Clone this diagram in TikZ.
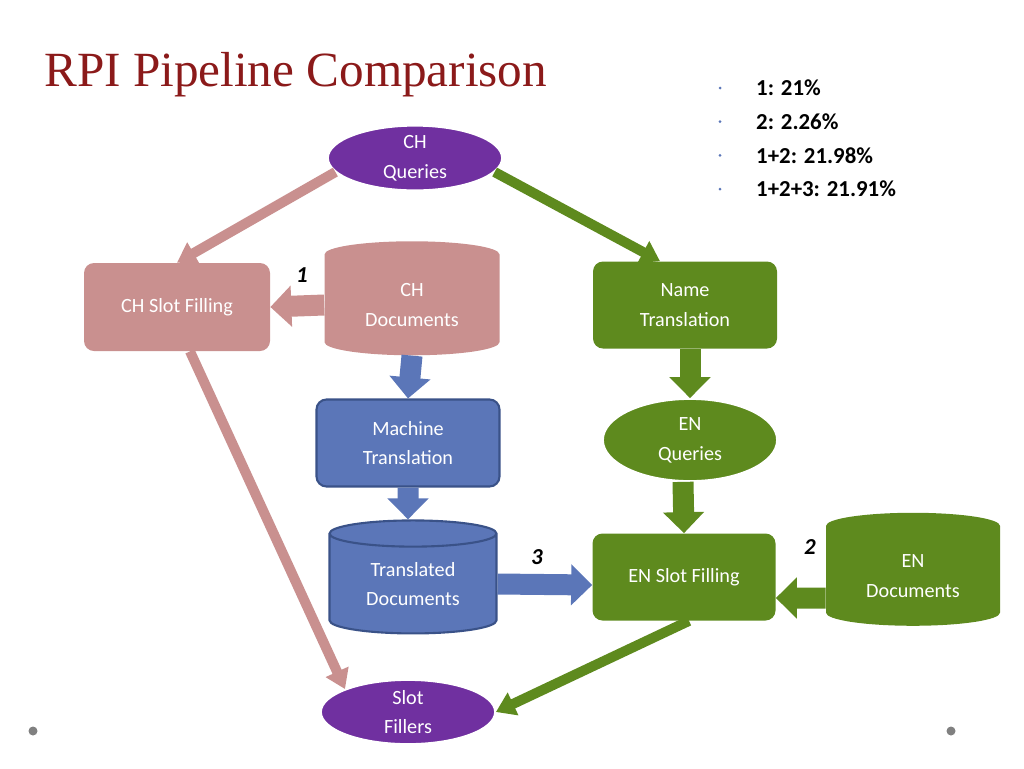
\documentclass[tikz,border=0pt]{standalone}
\usepackage{fontspec}
\setmainfont{Carlito}
\newfontfamily\titlefont{Liberation Serif}
\usetikzlibrary{shapes.geometric,arrows.meta}
\definecolor{pk}{HTML}{C9908F}
\definecolor{gr}{HTML}{5E8A1E}
\definecolor{bl}{HTML}{5B76B8}
\definecolor{bld}{HTML}{3A5288}
\definecolor{pu}{HTML}{7030A0}
\definecolor{tr}{HTML}{8B1A1A}
\def\u{0.02cm}
\begin{document}
\begin{tikzpicture}[x=0.02cm,y=-0.02cm,
  txt/.style={text=white,font=\fontsize{11.5}{17}\selectfont,align=center},
  box/.style={txt,rounded corners=0.2cm,inner sep=0pt},
  ell/.style={txt,ellipse,inner sep=0pt,fill=pu,draw=white,line width=1pt},
  cyl/.style={txt,cylinder,shape border rotate=90,aspect=0.28,inner sep=0pt},
  thin/.style={line width=0.2cm,-{Triangle[width=0.48cm,length=0.38cm]}},
  blk/.style={line width=0.42cm,-{Triangle[width=0.8cm,length=0.42cm]}},
  num/.style={font=\bfseries\itshape\fontsize{13}{15}\selectfont}]
\useasboundingbox (0,0) rectangle (1024,768);
\node[anchor=west,text=tr,font=\titlefont\fontsize{28}{32}\selectfont] (title) at (38,75) {RPI Pipeline Comparison};
\foreach \t [count=\i] in {1: 21\%,2: 2.26\%,1+2: 21.98\%,1+2+3: 21.91\%}{
  \fill[bl] (720,{88+(\i-1)*33.7}) circle (1.5);
  \node[anchor=west,font=\bfseries\fontsize{13}{15}\selectfont] (b\i) at (750,{88+(\i-1)*33.7}) {\t};
}
\fill[gray] (33,731) circle (4.5); \fill[gray] (951,731) circle (4.5);
\node[ell,minimum width={174*\u},minimum height={64*\u}] (chq) at (415,158) {CH\\Queries};
\node[box,fill=pk,minimum width={186*\u},minimum height={88*\u}] (chsf) at (177,307) {CH Slot Filling};
\node[cyl,fill=pk,minimum width={175*\u},minimum height={114*\u}] (chd) at (412,305) {CH\\Documents};
\node[box,fill=gr,minimum width={184*\u},minimum height={87*\u}] (nt) at (685,305) {Name\\Translation};
\node[box,fill=bl,draw=bld,line width=1.2pt,minimum width={183*\u},minimum height={87*\u}] (mt) at (408,443) {Machine\\Translation};
\node[ell,fill=gr,minimum width={174*\u},minimum height={82*\u}] (enq) at (690,440) {EN\\Queries};
\node[cyl,fill=bl,draw=bld,line width=1.2pt,minimum width={167*\u},minimum height={113*\u}] (td) at (413,584) {Translated\\Documents};
\node[box,fill=gr,minimum width={183*\u},minimum height={87*\u}] (ensf) at (684,577) {EN Slot Filling};
\node[cyl,fill=gr,minimum width={174*\u},minimum height={113*\u}] (end) at (913,576) {EN\\Documents};
\node[ell,minimum width={174*\u},minimum height={64*\u}] (sf) at (408,712) {Slot\\Fillers};
\draw[thin,pk] (chq.190) -- (chsf.north);
\draw[thin,gr] (chq.-10) -- ([xshift={-25*\u}]nt.north);
\draw[blk,pk] (chd.west) -- (chsf.east);
\draw[blk,bl] (chd.south) -- (mt.north);
\draw[blk,bl] (mt.south) -- ([xshift={-5*\u}]td.north);
\draw[blk,gr] ([xshift={5*\u}]nt.south) -- (enq.north);
\draw[blk,gr] ([xshift={-7*\u}]enq.south) -- (ensf.north);
\draw[blk,bl] (td.east) -- ([yshift={-8*\u}]ensf.west);
\draw[blk,gr] ([yshift={-22*\u}]end.west) -- ([yshift={-21*\u}]ensf.east);
\draw[thin,pk] ([xshift={13*\u}]chsf.south) -- (sf.160);
\draw[thin,gr] ([xshift={5*\u}]ensf.south) -- (sf.east);
\node[num] (n1) at (302,275) {1};
\node[num] (n2) at (810,547) {2};
\node[num] (n3) at (537,557) {3};
\end{tikzpicture}
\end{document}
